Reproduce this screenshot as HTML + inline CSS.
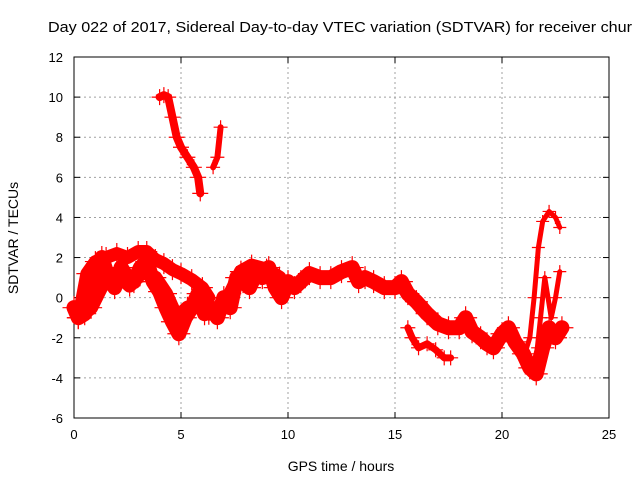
<!DOCTYPE html>
<html><head><meta charset="utf-8"><style>
body{margin:0;background:#fff;}
svg{display:block;font-family:"Liberation Sans",sans-serif;}
</style></head><body>
<svg id="chart" width="640" height="480">
<text x="48" y="32" font-size="15" textLength="584" lengthAdjust="spacingAndGlyphs">Day 022 of 2017, Sidereal Day-to-day VTEC variation (SDTVAR) for receiver chur</text>
<g id="grid"></g>
<g id="axes"></g>
<g id="series"></g>
<text x="341" y="471" font-size="14" text-anchor="middle">GPS time / hours</text>
<text transform="translate(18,238) rotate(-90)" font-size="14" text-anchor="middle">SDTVAR / TECUs</text>
</svg>
<script>
const xTicks=[0,5,10,15,20,25];
const yTicks=[-6,-4,-2,0,2,4,6,8,10,12];
const mainT=[0,0.2,0.5,0.8,1.0,1.3,1.6,1.9,2.2,2.5,2.8,3.1,3.4,3.7,4.0,4.3,4.6,4.9,5.2,5.5,5.8,6.1,6.4,6.7,7.0,7.3,7.6,7.9,8.2,8.5,8.8,9.1,9.4,9.7,10,10.3,10.6,11,11.5,12,12.5,13,13.3,13.6,14,14.5,15,15.3,15.6,16,16.5,17,17.5,18,18.3,18.6,19,19.3,19.6,20,20.3,20.6,21,21.3,21.6,21.9,22.2,22.5,22.8];
const mainV=[-0.5,-1,-0.8,0.5,1.5,2,1,0.5,1.5,1,0.8,1.5,1.8,0.8,0.3,-0.5,-1.2,-1.8,-1,-0.5,0.2,-0.8,-0.5,-1,0,-0.5,1,0.8,0.5,1.2,1,1.5,0.5,0,0.8,0.5,0.8,1.2,1,1,1.3,1.5,0.8,1,0.8,0.5,0.5,0.8,0.2,-0.2,-0.8,-1.3,-1.5,-1.5,-1,-1.7,-2,-2.3,-2.5,-1.8,-1.5,-2.2,-2.8,-3.5,-3.8,-2.5,-1.5,-2,-1.5];
const upperT=[0.3,0.6,1,1.5,2,2.5,3,3.4,3.8,4.2,4.6,5,5.5,6,6.3];
const upperV=[-0.5,1.2,1.8,2.0,2.2,2.0,2.3,2.3,1.9,1.7,1.4,1.2,0.9,0.5,0];
const lowT=[0.2,0.8,1.4,2,2.6,3.2,3.8,4.3,4.8,5.3,5.8,6.3,6.8,7.3,7.8,8.3,9,9.6];
const lowV=[-1,-0.5,0.8,1.2,0.6,1.3,1.0,0.2,-1.0,-0.5,-0.3,-0.8,-0.5,0.2,1.3,1.6,1.4,1.0];
const branchT=[15.6,15.8,16.1,16.5,16.9,17.3,17.6];
const branchV=[-1.5,-2,-2.5,-2.3,-2.6,-3.0,-3.0];
const highT=[4.0,4.2,4.4,4.6,4.8,5.0,5.3,5.6,5.8,5.9];
const highV=[10,10.1,10,9,8,7.5,7.0,6.5,6.0,5.2];
const high2T=[6.5,6.7,6.85];
const high2V=[6.5,7,8.5];
const spikeT=[21.0,21.3,21.5,21.7,21.9,22.2,22.5,22.7];
const spikeV=[-3,-2,0,2.5,3.8,4.3,4.0,3.5];
const spike2T=[21.6,21.8,22.0,22.3,22.5,22.7];
const spike2V=[-3,-1,1,-1,0,1.3];
const seriesList=[[mainT,mainV,15],[upperT,upperV,13],[lowT,lowV,14],[branchT,branchV,7],[highT,highV,8],[high2T,high2V,6],[spikeT,spikeV,5],[spike2T,spike2V,5]];
const X0=74,X1=609,Y0=418,Y1=57;
function sx(t){return X0+(t-0)/(25-0)*(X1-X0);}
function sy(v){return Y0-(v-(-6))/(12-(-6))*(Y0-Y1);}
const NS="http://www.w3.org/2000/svg";
function mk(tag,attrs,parent){const e=document.createElementNS(NS,tag);for(const k in attrs)e.setAttribute(k,attrs[k]);parent.appendChild(e);return e;}
const grid=document.getElementById('grid'),axes=document.getElementById('axes'),ser=document.getElementById('series');
xTicks.forEach(t=>{
 const x=sx(t);
 if(t>0&&t<25){const l=mk('line',{x1:x,x2:x,y1:Y1,y2:Y0,stroke:'#a0a0a0','stroke-dasharray':'2,3'},grid);
 
 }
 mk('line',{x1:x,x2:x,y1:Y0,y2:Y0-6,stroke:'#000'},axes);
 mk('line',{x1:x,x2:x,y1:Y1,y2:Y1+6,stroke:'#000'},axes);
 const tx=mk('text',{x:x,y:Y0+21,'font-size':13,'text-anchor':'middle'},axes);
 
 
 tx.textContent=t;
});
yTicks.forEach(v=>{
 const y=sy(v);
 if(v>-6&&v<12){const l=mk('line',{x1:X0,x2:X1,y1:y,y2:y,stroke:'#a0a0a0','stroke-dasharray':'2,3'},grid);
 
 }
 mk('line',{x1:X0,x2:X0+6,y1:y,y2:y,stroke:'#000'},axes);
 mk('line',{x1:X1,x2:X1-6,y1:y,y2:y,stroke:'#000'},axes);
 const tx=mk('text',{x:X0-11,y:y+5,'font-size':13,'text-anchor':'end'},axes);
 
 
 tx.textContent=v;
});
seriesList.forEach(([T,V,w])=>{
 const pts=T.map((t,i)=>sx(t)+','+sy(V[i])).join(' ');
 const pl=mk('polyline',{points:pts,fill:'none',stroke:'#ff0000','stroke-width':w,'stroke-linejoin':'round','stroke-linecap':'round'},ser);
 
 
 T.forEach((t,i)=>{
  const x=sx(t),y=sy(V[i]);
  const s=w/2+4;
  const p=mk('path',{d:`M${x-s},${y}h${2*s}M${x},${y-s}v${2*s}`,stroke:'#ff0000','stroke-width':1.2},ser);
  
  
 });
});
const fr=mk('rect',{x:X0,y:Y1,width:X1-X0,height:Y0-Y1,fill:'none',stroke:'#000'},axes);


</script>
</body></html>
